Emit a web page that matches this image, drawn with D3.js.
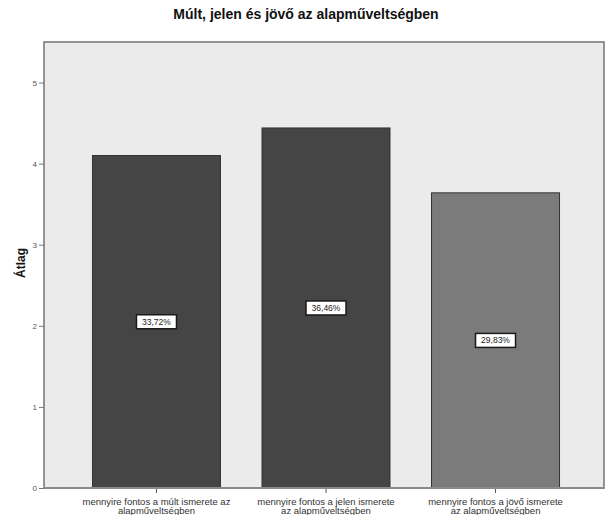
<!DOCTYPE html>
<html>
<head>
<meta charset="utf-8">
<script src="https://cdn.jsdelivr.net/npm/d3@7/dist/d3.min.js"></script>
<style>
  html, body { margin: 0; padding: 0; background: #ffffff; }
  svg { display: block; font-family: "Liberation Sans", Arial, sans-serif; }
</style>
</head>
<body>
<svg id="chart" width="605" height="515"></svg>
<script>
// Chart data
const title = "Múlt, jelen és jövő az alapműveltségben";
const yTitle = "Átlag";
const categories = [
  ["mennyire fontos a múlt ismerete az", "alapműveltségben"],
  ["mennyire fontos a jelen ismerete", "az alapműveltségben"],
  ["mennyire fontos a jövő ismerete", "az alapműveltségben"]
];
const means = [4.10, 4.44, 3.64];
const percentLabels = ["33,72%", "36,46%", "29,83%"];
const yTicks = [0, 1, 2, 3, 4, 5];
const barColors = ["#454545", "#454545", "#7b7b7b"];

const svg = d3.select("#chart");

// Plot frame
const frame = { left: 44, top: 42, right: 604, bottom: 488 };

const x = d3.scaleBand()
  .domain(d3.range(categories.length))
  .range([frame.left, 608])
  .paddingInner(0.245)
  .paddingOuter(0.286);

const y = d3.scaleLinear()
  .domain([0, 5.5])
  .range([frame.bottom, frame.top]);

// Background panel
svg.append("rect")
  .attr("x", frame.left)
  .attr("y", frame.top)
  .attr("width", frame.right - frame.left)
  .attr("height", frame.bottom - frame.top)
  .attr("fill", "#ebebeb")
  .attr("stroke", "#8a8a8a")
  .attr("stroke-width", 1.8);

// Bars
svg.append("g")
  .selectAll("rect")
  .data(means)
  .join("rect")
  .attr("x", (d, i) => x(i))
  .attr("y", d => y(d))
  .attr("width", x.bandwidth())
  .attr("height", d => y(0) - y(d))
  .attr("fill", (d, i) => barColors[i])
  .attr("stroke", "#333333")
  .attr("stroke-width", 1);

// Percentage labels at bar mid-height
const labels = svg.append("g")
  .selectAll("g")
  .data(means)
  .join("g")
  .attr("transform", (d, i) => `translate(${x(i) + x.bandwidth() / 2},${y(d / 2)})`);

labels.append("rect")
  .attr("x", -20)
  .attr("y", -7)
  .attr("width", 40)
  .attr("height", 14)
  .attr("fill", "#ffffff")
  .attr("stroke", "#1a1a1a")
  .attr("stroke-width", 1.5);

labels.append("text")
  .attr("text-anchor", "middle")
  .attr("dy", "0.35em")
  .attr("font-size", 8.5)
  .attr("fill", "#222222")
  .text((d, i) => percentLabels[i]);

// Y axis
const yAxis = d3.axisLeft(y)
  .tickValues(yTicks)
  .tickSize(5)
  .tickPadding(2)
  .tickFormat(d3.format("d"));

const yg = svg.append("g")
  .attr("transform", `translate(${frame.left},0)`)
  .call(yAxis);
yg.select(".domain").remove();
yg.selectAll("line").attr("stroke", "#777777");
yg.selectAll("text").attr("font-size", 8).attr("fill", "#555555");

// X axis
const xAxis = d3.axisBottom(x)
  .tickSize(5)
  .tickFormat("");

const xg = svg.append("g")
  .attr("transform", `translate(0,${frame.bottom})`)
  .call(xAxis);
xg.select(".domain").remove();
xg.selectAll("line").attr("stroke", "#555555");

xg.selectAll(".tick")
  .append("text")
  .attr("text-anchor", "middle")
  .attr("font-size", 9.5)
  .attr("fill", "#333333")
  .selectAll("tspan")
  .data(i => categories[i])
  .join("tspan")
  .attr("x", 0)
  .attr("y", (d, j) => 16.5 + j * 9.5)
  .text(d => d);

// Axis line along the bottom of the panel
svg.append("line")
  .attr("x1", frame.left)
  .attr("x2", frame.right)
  .attr("y1", frame.bottom)
  .attr("y2", frame.bottom)
  .attr("stroke", "#8a8a8a")
  .attr("stroke-width", 1.8);

// Title
svg.append("text")
  .attr("x", 306)
  .attr("y", 19)
  .attr("text-anchor", "middle")
  .attr("font-size", 14)
  .attr("font-weight", "bold")
  .attr("fill", "#111111")
  .text(title);

// Y axis title
svg.append("text")
  .attr("transform", "translate(25,263) rotate(-90)")
  .attr("text-anchor", "middle")
  .attr("font-size", 12)
  .attr("font-weight", "bold")
  .attr("fill", "#111111")
  .text(yTitle);
</script>
</body>
</html>
